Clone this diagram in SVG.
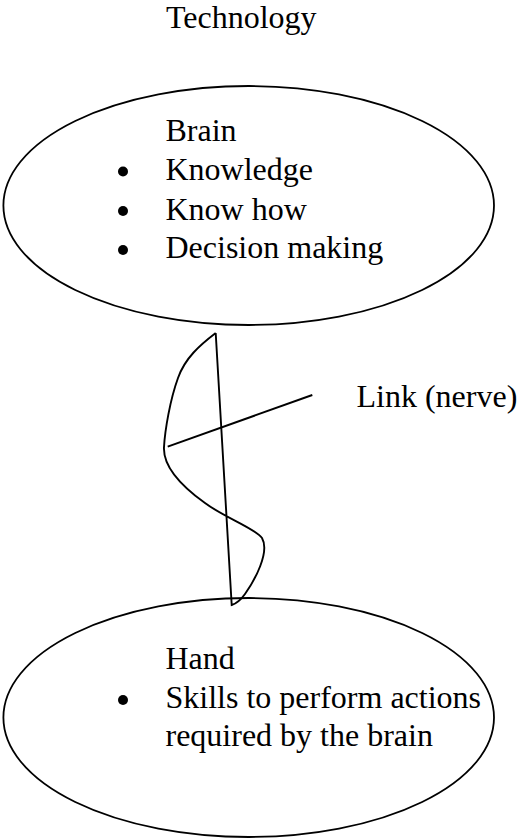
<svg xmlns="http://www.w3.org/2000/svg" width="520" height="838" viewBox="0 0 520 838">
<style>
text{font-family:"Liberation Serif","Times New Roman",serif;font-size:32px;fill:#000}
.shape{fill:none;stroke:#000;stroke-width:1.8}
.line{fill:none;stroke:#000;stroke-width:1.9;stroke-linejoin:miter}
.bullet{fill:#000}
</style>
<rect width="520" height="838" fill="#fff"/>
<g id="title"><text x="166" y="28">Technology</text></g>
<g id="brain">
<ellipse class="shape" cx="248.7" cy="205.5" rx="245.3" ry="119.5"/>
<text x="165.5" y="141">Brain</text>
<circle class="bullet" cx="123" cy="171.5" r="5"/>
<text x="165.5" y="180">Knowledge</text>
<circle class="bullet" cx="123" cy="211" r="5"/>
<text x="165.5" y="219.5">Know how</text>
<circle class="bullet" cx="123" cy="250" r="5"/>
<text x="165.5" y="258">Decision making</text>
</g>
<g id="hand">
<ellipse class="shape" cx="248.7" cy="717.5" rx="245.3" ry="119.5"/>
<text x="165.5" y="669">Hand</text>
<circle class="bullet" cx="123" cy="700" r="5"/>
<text x="165.5" y="708">Skills to perform actions</text>
<text x="165.5" y="746">required by the brain</text>
</g>
<g id="link-label"><text x="356.5" y="407">Link (nerve)</text></g>
<g id="connectors">
<path class="line" d="M215.7,333 C200,345 185,358 178,378 C170,400 165,430 164,447 C163,465 180,485 205,503 C225,518 255,528 262,538 C270,552 255,580 245,594 C240,601 235,604 231.7,605 L215.7,333"/>
<path class="line" d="M167.7,446.7 L312.3,395"/>
</g>
</svg>
